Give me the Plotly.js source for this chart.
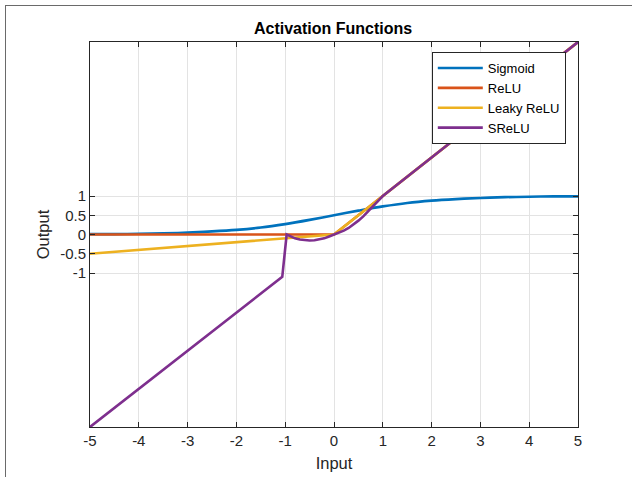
<!DOCTYPE html>
<html>
<head>
<meta charset="utf-8">
<script src="https://cdn.plot.ly/plotly-3.0.1.min.js"></script>
<style>
html,body{margin:0;padding:0;background:#fff;overflow:hidden;}
#chart{position:absolute;left:0;top:0;width:632px;height:477px;}
#frame{position:absolute;left:5px;top:5px;width:700px;height:600px;border-left:1px solid #6a6a6a;border-top:1px solid #6a6a6a;pointer-events:none;}
</style>
</head>
<body>
<div id="chart"></div>
<div id="frame"></div>
<script>
// Data
const sigmoidX = [-5,-4.5,-4,-3.5,-3,-2.5,-2,-1.5,-1,-0.5,0,0.5,1,1.5,2,2.5,3,3.5,4,4.5,5];
const sigmoidY = [0.01,0.01,0.02,0.03,0.05,0.08,0.12,0.18,0.27,0.38,0.5,0.62,0.73,0.82,0.88,0.92,0.95,0.97,0.98,0.99,0.99];
const reluX = [-5,0,5];
const reluY = [0,0,5];
const leakyX = [-5,0,5];
const leakyY = [-0.5,0,5];
const sreluX = [-5,-1.06,-0.97,-0.9,-0.8,-0.7,-0.6,-0.5,-0.4,-0.3,-0.2,-0.1,0,0.1,0.2,0.3,0.4,0.5,0.6,0.7,0.8,0.9,1,5];
const sreluY = [-5,-1.1,0,-0.05,-0.1,-0.13,-0.15,-0.155,-0.15,-0.13,-0.1,-0.05,0,0.04,0.1,0.17,0.26,0.36,0.47,0.6,0.74,0.87,1,5];
const seriesNames = ['Sigmoid','ReLU','Leaky ReLU','SReLU'];
const xTicks = [-5,-4,-3,-2,-1,0,1,2,3,4,5];
const xTickText = ['-5','-4','-3','-2','-1','0','1','2','3','4','5'];
const yTicks = [-1,-0.5,0,0.5,1];
const yTickText = ['-1','-0.5','0','0.5','1'];

const colors = ['#0072BD','#D95319','#EDB120','#7E2F8E'];
const lw = 2.6;
const FONT = 'Liberation Sans, Arial, sans-serif';
const traces = [
  {x:sigmoidX,y:sigmoidY,name:seriesNames[0],mode:'lines',line:{color:colors[0],width:lw,shape:'spline'}},
  {x:reluX,y:reluY,name:seriesNames[1],mode:'lines',line:{color:colors[1],width:lw}},
  {x:leakyX,y:leakyY,name:seriesNames[2],mode:'lines',line:{color:colors[2],width:lw}},
  {x:sreluX,y:sreluY,name:seriesNames[3],mode:'lines',line:{color:colors[3],width:lw}}
];
const axisCommon = {
  showline:true, linecolor:'#262626', linewidth:1, mirror:'ticks',
  ticks:'inside', ticklen:5, tickcolor:'#262626', tickwidth:1,
  showgrid:true, gridcolor:'#e3e3e3', gridwidth:1, zeroline:false,
  tickfont:{family:FONT, size:15, color:'#262626'},
  tickmode:'array'
};
const layout = {
  width:632, height:477,
  margin:{l:90,r:54,t:42,b:50},
  paper_bgcolor:'#fff', plot_bgcolor:'#fff',
  title:{text:'<b>Activation Functions</b>', x:0.527, xanchor:'center', y:0.941, yanchor:'middle',
    font:{family:FONT, size:16, color:'#000'}},
  xaxis:Object.assign({}, axisCommon, {range:[-5,5], tickvals:xTicks, ticktext:xTickText,
    title:{text:'Input', standoff:9, font:{family:FONT, size:16.5, color:'#262626'}}}),
  yaxis:Object.assign({}, axisCommon, {range:[-5,5], tickvals:yTicks, ticktext:yTickText,
    title:{text:'Output', standoff:6, font:{family:FONT, size:16.5, color:'#262626'}}}),
  showlegend:true,
  legend:{x:0.975, xanchor:'right', y:0.974, yanchor:'top', bgcolor:'#fff', bordercolor:'#262626', borderwidth:1,
    font:{family:FONT, size:13, color:'#000'}, itemwidth:45, tracegroupgap:0}
};
Plotly.newPlot('chart', traces, layout, {displayModeBar:false, staticPlot:true});
</script>
</body>
</html>
